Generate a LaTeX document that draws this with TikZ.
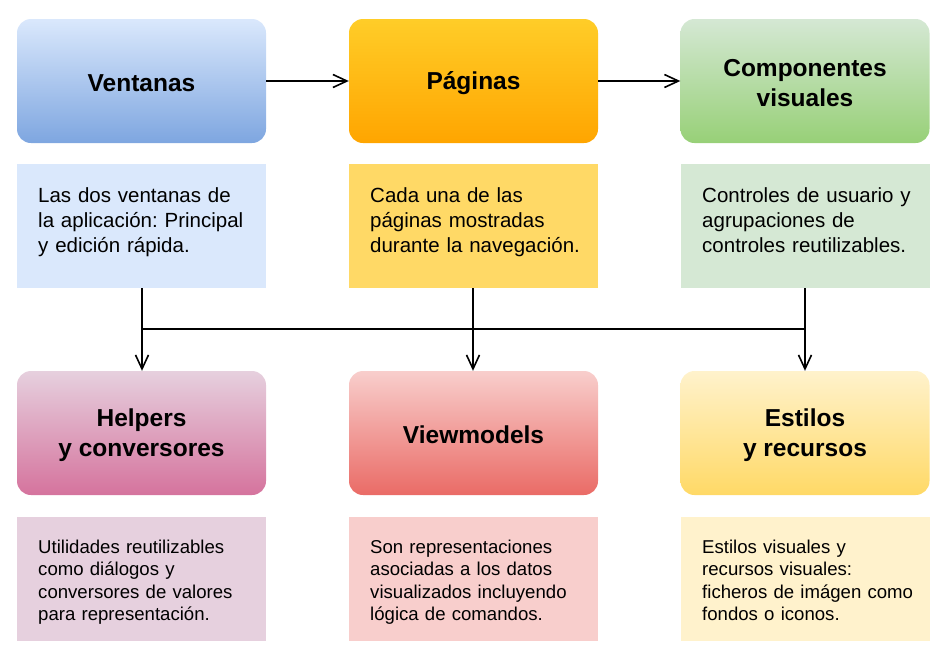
\documentclass[tikz,border=0pt]{standalone}
\usepackage{fontspec}
\setmainfont{Liberation Sans}
\usetikzlibrary{arrows.meta}
\frenchspacing

% Fill colours: header gradient (top/bottom) and description panels
\definecolor{winTop}{HTML}{DAE8FC}\definecolor{winBot}{HTML}{7EA6E0}\definecolor{winDesc}{HTML}{DAE8FC}
\definecolor{pagTop}{HTML}{FFCD28}\definecolor{pagBot}{HTML}{FFA500}\definecolor{pagDesc}{HTML}{FFD966}
\definecolor{comTop}{HTML}{D5E8D4}\definecolor{comBot}{HTML}{97D077}\definecolor{comDesc}{HTML}{D5E8D4}
\definecolor{helTop}{HTML}{E6D0DE}\definecolor{helBot}{HTML}{D5739D}\definecolor{helDesc}{HTML}{E6D0DE}
\definecolor{vmTop}{HTML}{F8CECC}\definecolor{vmBot}{HTML}{EA6B66}\definecolor{vmDesc}{HTML}{F8CECC}
\definecolor{estTop}{HTML}{FFF2CC}\definecolor{estBot}{HTML}{FFD966}\definecolor{estDesc}{HTML}{FFF2CC}

\tikzset{
  header/.style 2 args={rounded corners=14pt, minimum width=249pt, minimum height=124pt,
    top color=#1, bottom color=#2, draw=none, inner sep=0pt},
  title/.style={inner sep=0pt, align=center, font=\fontsize{24.5}{30}\selectfont\bfseries},
  panel/.style={fill=#1, draw=none, minimum width=249pt, minimum height=124pt, inner sep=0pt},
  toptext/.style={anchor=base west, inner sep=0pt, text width=235pt, align=left,
    font=\fontsize{20.5}{25}\selectfont},
  bottext/.style={anchor=base west, inner sep=0pt, text width=235pt, align=left,
    font=\fontsize{18.6}{22.5}\selectfont},
  link/.style={line width=1.6pt, draw=black},
  arrowlink/.style={link, -{Straight Barb[length=14pt,width=13pt]}},
}

\begin{document}
\begin{tikzpicture}[x=1pt, y=-1pt]
\useasboundingbox (0,0) rectangle (943,654);

% Top row: headers (shaded boxes, titles set slightly below centre)
\node[header={winTop}{winBot}] (win) at (141.5,81) {};
\node[header={pagTop}{pagBot}] (pag) at (473.5,81) {};
\node[header={comTop}{comBot}] (com) at (805,81) {};
\node[title] (winH) at (141.5,83) {Ventanas};
\node[title] (pagH) at (473.5,83) {Páginas};
\node[title] (comH) at (805,83) {Componentes\\visuales};

% Top row: description panels
\node[panel=winDesc] (winD) at (141.5,226) {};
\node[panel=pagDesc] (pagD) at (473.5,226) {};
\node[panel=comDesc] (comD) at (805,226) {};
\node[toptext] (winT) at (38,202) {Las dos ventanas de\\la aplicación: Principal\\y edición rápida.};
\node[toptext] (pagT) at (370,202) {Cada una de las\\páginas mostradas\\durante la navegación.};
\node[toptext] (comT) at (702,202) {Controles de usuario y\\agrupaciones de\\controles reutilizables.};

% Bottom row: headers
\node[header={helTop}{helBot}] (hel) at (141.5,433) {};
\node[header={vmTop}{vmBot}] (vm) at (473.5,433) {};
\node[header={estTop}{estBot}] (est) at (805,433) {};
\node[title] (helH) at (141.5,435) {Helpers\\y conversores};
\node[title] (vmH) at (473.5,435) {Viewmodels};
\node[title] (estH) at (805,435) {Estilos\\y recursos};

% Bottom row: description panels
\node[panel=helDesc] (helD) at (141.5,578.5) {};
\node[panel=vmDesc] (vmD) at (473.5,578.5) {};
\node[panel=estDesc] (estD) at (805,578.5) {};
\node[bottext] (helT) at (38,553) {Utilidades reutilizables\\como diálogos y\\conversores de valores\\para representación.};
\node[bottext] (vmT) at (370,553) {Son representaciones\\asociadas a los datos\\visualizados incluyendo\\lógica de comandos.};
\node[bottext] (estT) at (702,553) {Estilos visuales y\\recursos visuales:\\ficheros de imágen como\\fondos o iconos.};

% Flow between the top headers
\draw[arrowlink] (win.east) -- (pag.west);
\draw[arrowlink] (pag.east) -- (com.west);

% Distribution bar between the rows
\coordinate (busL) at (142,329);
\coordinate (busM) at (473,329);
\coordinate (busR) at (805,329);
\draw[link] (busL) -- (busR);
\draw[arrowlink] (winD.south -| busL) -- (hel.north -| busL);
\draw[arrowlink] (pagD.south -| busM) -- (vm.north -| busM);
\draw[arrowlink] (comD.south -| busR) -- (est.north -| busR);
\end{tikzpicture}
\end{document}
